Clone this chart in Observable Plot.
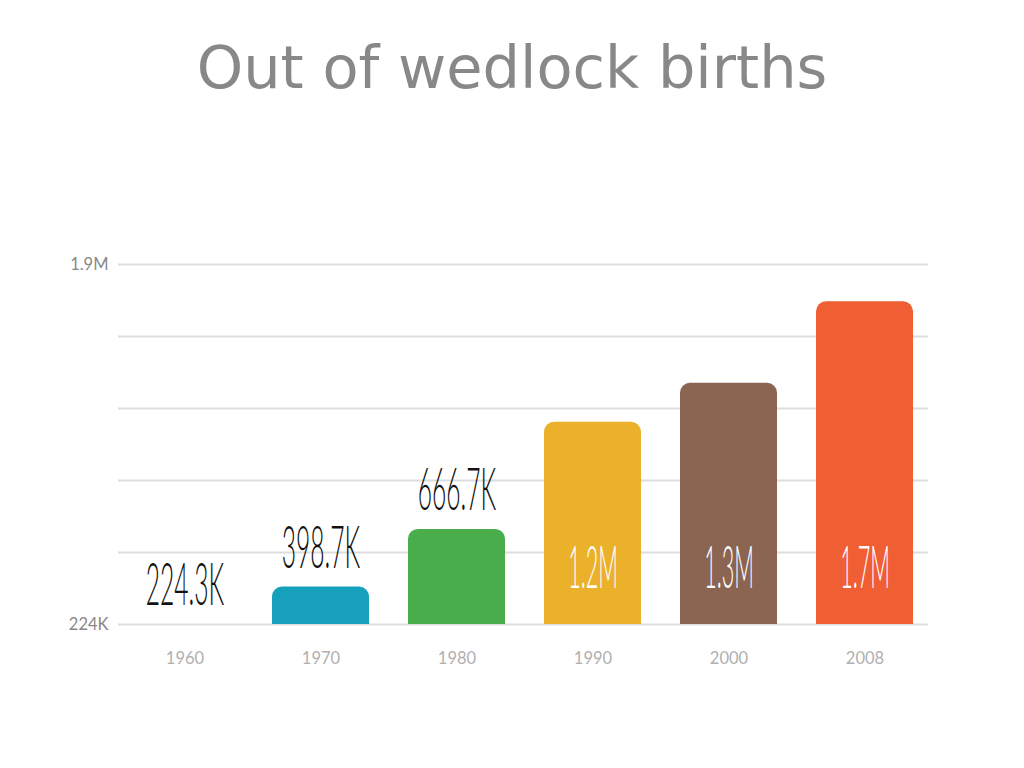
<!DOCTYPE html>
<html><head><meta charset="utf-8">
<script src="https://cdn.jsdelivr.net/npm/d3@7"></script>
<script src="https://cdn.jsdelivr.net/npm/@observablehq/plot@0.6"></script>
<style>
body{margin:0;background:#fff}
#wrap{position:relative;width:1024px;height:768px}
#title{position:absolute;left:0;top:28px;width:1024px;text-align:center;font-family:"DejaVu Sans";font-size:59px;color:#888;line-height:80px}
#chart{position:absolute;left:0;top:0}
</style></head>
<body><div id="wrap"><div id="title">Out of wedlock births</div><div id="chart"></div></div>
<script>
const years = ["1960","1970","1980","1990","2000","2008"];
const births = [224300, 398700, 666700, 1165400, 1347000, 1726600];
const valueLabels = ["224.3K","398.7K","666.7K","1.2M","1.3M","1.7M"];
const colors = ["#16a0bb","#16a0bb","#4aad4c","#ebb12a","#8b6552","#f05e33"];
const gridTicks = [224000, 559200, 894400, 1229600, 1564800, 1900000];
const yTickValues = [224000, 1900000];
const yTickLabels = ["224K","1.9M"];

const base = 224000;
const data = years.map((y,i)=>({year:y, value:births[i], label:valueLabels[i], color:colors[i], inside: births[i] > 1000000}));

const chart = Plot.plot({
  width:1024, height:768,
  marginLeft:118, marginRight:96, marginTop:264, marginBottom:144,
  style:{background:"transparent", fontFamily:"Lato"},
  x:{domain:years, range:[116,932], paddingInner:0.287, paddingOuter:0.1435, label:null},
  y:{domain:[base,1900000], label:null},
  marks:[
    Plot.ruleY(gridTicks,{stroke:"#dddddd", strokeWidth:2}),
    Plot.barY(data,{x:"year", y1:base, y2:"value", fill:"color", rx:10}),
    Plot.barY(data.filter(d=>d.value-base>30000),{x:"year", y1:base, y2:d=>(base+d.value)/2, fill:"color"}),
    Plot.axisY(yTickValues,{tickSize:0, tickPadding:10, tickFormat:(d,i)=>yTickLabels[i], fontSize:16.5, fill:"#888", label:null}),
    Plot.axisX({tickSize:0, tickPadding:28, fontSize:16.5, fill:"#b0b0b0", label:null}),
    Plot.text(data.filter(d=>!d.inside),{x:"year", y:"value", text:"label", dy:-19, lineAnchor:"bottom", fontSize:60, fontWeight:300, fill:"#111", fontFamily:"Lato"}),
    Plot.text(data.filter(d=>d.inside),{x:"year", y:base, text:"label", dy:-37, lineAnchor:"bottom", fontSize:60, fontWeight:300, fill:"#fff", fontFamily:"Lato"})
  ]
});
document.getElementById("chart").appendChild(chart);
d3.select(chart).selectAll('g[aria-label="text"] text').each(function(){
  const len = this.getComputedTextLength();
  const k = /M$/.test(this.textContent) ? 0.36 : 0.41;
  this.setAttribute("textLength", (len*k).toFixed(1));
  this.setAttribute("lengthAdjust","spacingAndGlyphs");
});
</script></body></html>
